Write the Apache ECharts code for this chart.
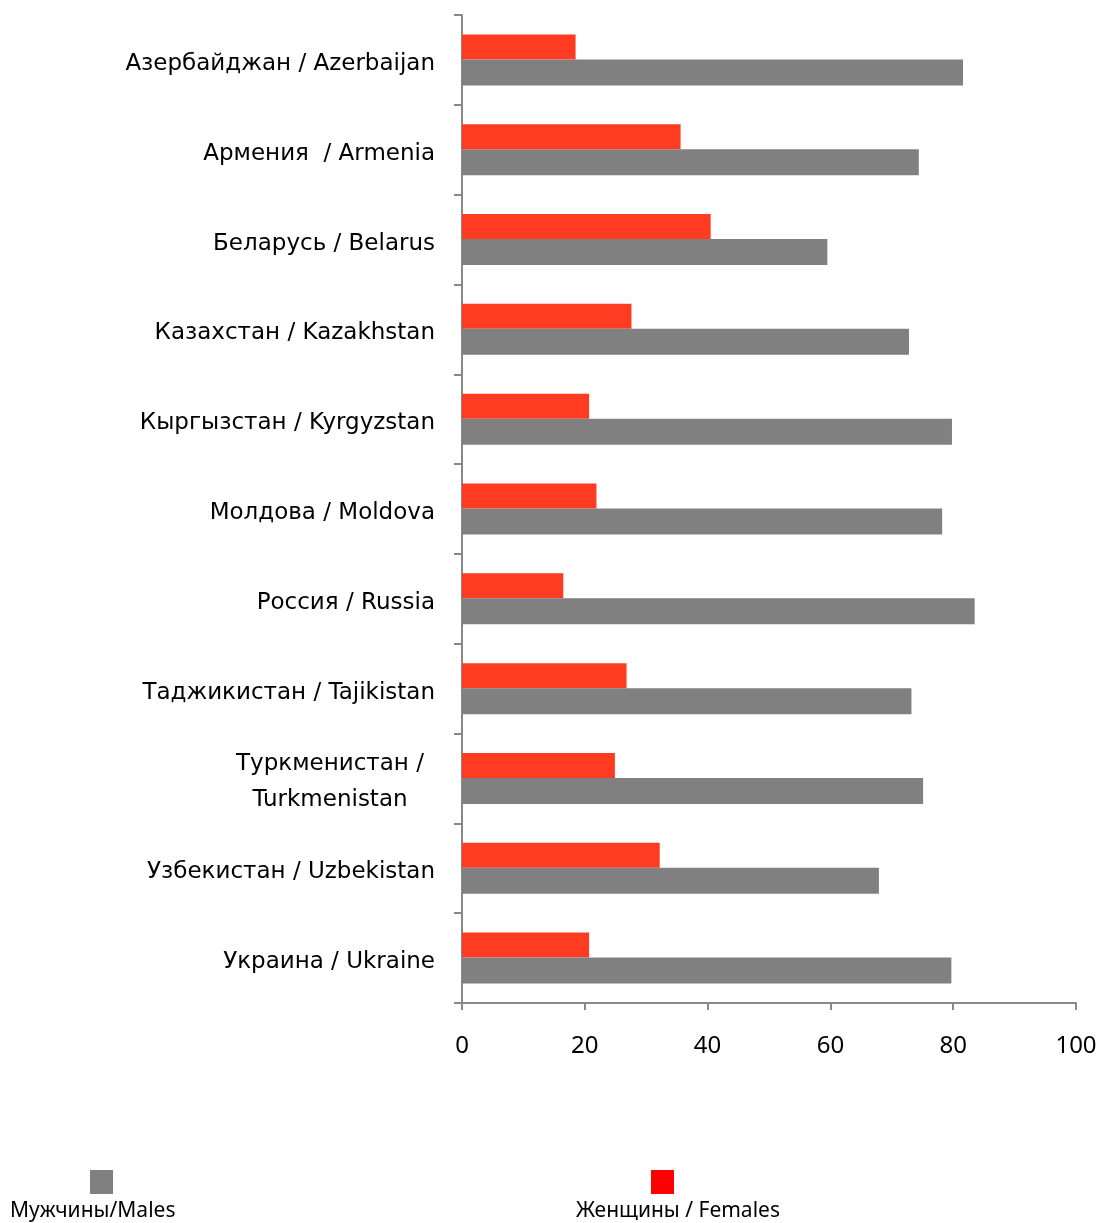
<!DOCTYPE html>
<html>
<head>
<meta charset="utf-8">
<script src="https://cdn.jsdelivr.net/npm/echarts@6/dist/echarts.min.js"></script>
<style>
  html, body { margin: 0; padding: 0; background: #fff; }
  #chart { width: 1108px; height: 1223px; }
</style>
</head>
<body>
<div id="chart"></div>
<script>
const countries = [
  'Азербайджан / Azerbaijan',
  'Армения  / Armenia',
  'Беларусь / Belarus',
  'Казахстан / Kazakhstan',
  'Кыргызстан / Kyrgyzstan',
  'Молдова / Moldova',
  'Россия / Russia',
  'Таджикистан / Tajikistan',
  'Туркменистан /\nTurkmenistan',
  'Узбекистан / Uzbekistan',
  'Украина / Ukraine'
];
const females = [18.5, 35.6, 40.5, 27.6, 20.7, 21.9, 16.5, 26.8, 24.9, 32.2, 20.7];
const males = [81.6, 74.4, 59.5, 72.8, 79.8, 78.2, 83.5, 73.2, 75.1, 67.9, 79.7];
const xTicks = [0, 20, 40, 60, 80, 100];

const chart = echarts.init(document.getElementById('chart'), null, { renderer: 'canvas' });
const font = "'DejaVu Sans', sans-serif";

const option = {
  animation: false,
  backgroundColor: '#fff',
  grid: { left: 462, right: 32, top: 15, bottom: 220, containLabel: false },
  xAxis: {
    type: 'value',
    min: xTicks[0],
    max: xTicks[xTicks.length - 1],
    interval: 20,
    splitLine: { show: false },
    axisLine: { show: true, lineStyle: { color: '#888', width: 2 } },
    axisTick: { show: true, length: 7, lineStyle: { color: '#888', width: 2 } },
    axisLabel: { margin: 31, color: '#000', fontSize: 24, fontFamily: "'Noto Sans', sans-serif" }
  },
  yAxis: {
    type: 'category',
    inverse: true,
    data: countries,
    axisLine: { show: true, lineStyle: { color: '#888', width: 2 } },
    axisTick: { show: true, length: 8, lineStyle: { color: '#888', width: 2 } },
    axisLabel: {
      margin: 27,
      color: '#000',
      fontSize: 23,
      fontFamily: font,
      lineHeight: 36,
      padding: [8, 0, 0, 0],
      formatter: function (v) {
        if (v.indexOf('\n') >= 0) {
          return v.split('\n').map(s => '{c|' + s + '}').join('\n');
        }
        return v;
      },
      rich: {
        c: { width: 210, align: 'center', fontSize: 23, fontFamily: font, color: '#000', lineHeight: 36 }
      }
    }
  },
  series: [
    {
      name: 'Женщины / Females',
      type: 'bar',
      data: females,
      barWidth: 25,
      barGap: '0%',
      itemStyle: { color: '#ff3b22' }
    },
    {
      name: 'Мужчины/Males',
      type: 'bar',
      data: males,
      barWidth: 26,
      barGap: '0%',
      itemStyle: { color: '#808080' }
    }
  ],
  graphic: [
    { type: 'rect', left: 90, top: 1170, shape: { width: 23, height: 24 }, style: { fill: '#808080' } },
    { type: 'text', left: 10, top: 1201, style: { text: 'Мужчины/Males', font: "21px 'Noto Sans', sans-serif", fill: '#000' } },
    { type: 'rect', left: 651, top: 1170, shape: { width: 23, height: 24 }, style: { fill: '#ff0000' } },
    { type: 'text', left: 576, top: 1201, style: { text: 'Женщины / Females', font: "21px 'Noto Sans', sans-serif", fill: '#000' } }
  ]
};

chart.setOption(option);
</script>
</body>
</html>
